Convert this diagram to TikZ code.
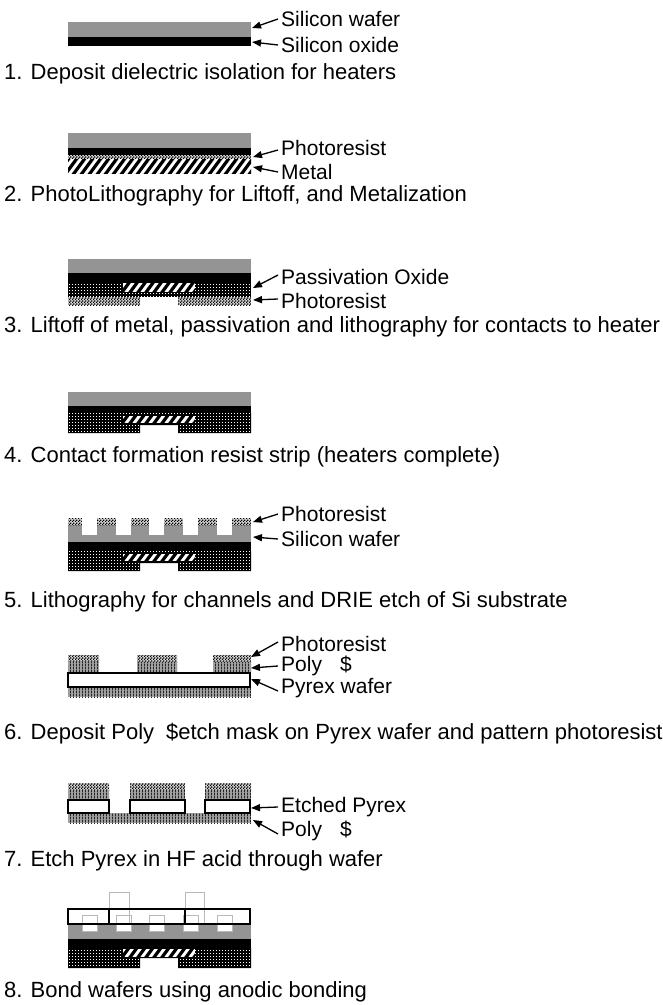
\documentclass[tikz,border=0pt]{standalone}
\usepackage{fontspec}
\setmainfont{Liberation Sans}
\usetikzlibrary{patterns,arrows.meta}

% fine checker for photoresist
\pgfdeclarepatternformonly{resistchk}{\pgfqpoint{0pt}{0pt}}{\pgfqpoint{3pt}{3pt}}{\pgfqpoint{3pt}{3pt}}{%
  \pgfpathrectangle{\pgfqpoint{0pt}{0pt}}{\pgfqpoint{1.5pt}{1.5pt}}%
  \pgfpathrectangle{\pgfqpoint{1.5pt}{1.5pt}}{\pgfqpoint{1.5pt}{1.5pt}}%
  \pgfusepath{fill}}
% sparse dots for passivation oxide
\pgfdeclarepatternformonly{oxdots}{\pgfqpoint{0pt}{0pt}}{\pgfqpoint{3pt}{3pt}}{\pgfqpoint{3pt}{3pt}}{%
  \pgfpathrectangle{\pgfqpoint{0pt}{0pt}}{\pgfqpoint{1.2pt}{1.2pt}}%
  \pgfusepath{fill}}
% dense vertical lines for polysilicon
\pgfdeclarepatternformonly{polylines}{\pgfqpoint{0pt}{0pt}}{\pgfqpoint{2.5pt}{3pt}}{\pgfqpoint{2.5pt}{3pt}}{%
  \pgfpathrectangle{\pgfqpoint{0pt}{0pt}}{\pgfqpoint{1.1pt}{3pt}}%
  \pgfusepath{fill}}

\definecolor{sigray}{RGB}{148,148,148}

% white box crossed by thick slanted stripes (metal heater)
\newcommand{\metalhatch}[4]{%
  \begin{scope}
    \clip (#1,#2) rectangle (#3,#4);
    \fill[white] (#1,#2) rectangle (#3,#4);
    \foreach \xx in {40,48,...,264}
      \draw[line width=3.2pt] (\xx,#4+3) -- ++(14,-19);
  \end{scope}}

\begin{document}
\begin{tikzpicture}[x=1pt,y=-1pt,
  si/.style={fill=sigray},
  ox/.style={fill=black},
  passiv/.style={fill=black, postaction={pattern=oxdots, pattern color=white}},
  resist/.style={fill=gray!35, postaction={pattern=resistchk, pattern color=black}},
  poly/.style={fill=gray!75, postaction={pattern=polylines, pattern color=black!85}},
  pyrex/.style={fill=white, draw=black, line width=1.3pt},
  hole/.style={draw=gray!55, line width=0.9pt},
  lbl/.style={anchor=west, inner sep=0pt, font=\fontsize{21}{24}\selectfont},
  capt/.style={anchor=base west, inner sep=0pt, font=\fontsize{22}{26}\selectfont},
  arr/.style={line width=1.3pt, -{Triangle[length=9pt,width=7pt]}}]

\useasboundingbox (0,0) rectangle (663,1005);
\fill[white] (0,0) rectangle (663,1005);

% ---- 1 ----
\fill[si] (68,22) rectangle (251,37);
\fill[ox] (68,37) rectangle (251,46);
\node[lbl] (l1a) at (281,19) {Silicon wafer};
\node[lbl] (l1b) at (281,45) {Silicon oxide};
\coordinate (t1a) at (252,28);
\coordinate (t1b) at (252,42);
\draw[arr] ([xshift=-3pt]l1a.west) -- (t1a);
\draw[arr] ([xshift=-3pt]l1b.west) -- (t1b);
\node[capt] (c1) at (4,79) {1. Deposit dielectric isolation for heaters};

% ---- 2 ----
\fill[si] (68,133) rectangle (251,148);
\fill[ox] (68,148) rectangle (251,155);
\fill[resist] (68,155) rectangle (251,160);
\metalhatch{68}{159}{251}{173}
\node[lbl] (l2a) at (281,148) {Photoresist};
\node[lbl] (l2b) at (281,172) {Metal};
\coordinate (t2a) at (253,157);
\coordinate (t2b) at (253,167);
\draw[arr] ([xshift=-3pt,yshift=-2pt]l2a.west) -- (t2a);
\draw[arr] ([xshift=-3pt]l2b.west) -- (t2b);
\node[capt] (c2) at (4,201) {2. PhotoLithography for Liftoff, and Metalization};

% ---- 3 ----
\fill[si] (68,259) rectangle (251,273);
\fill[ox] (68,273) rectangle (251,282);
\fill[passiv] (68,282) rectangle (251,297);
\metalhatch{123}{283}{195}{292}
\fill[resist] (68,297) rectangle (140,305);
\fill[resist] (178,297) rectangle (251,305);
\node[lbl] (l3a) at (281,277) {Passivation Oxide};
\node[lbl] (l3b) at (281,301) {Photoresist};
\coordinate (t3a) at (253,288);
\coordinate (t3b) at (253,300);
\draw[arr] ([xshift=-3pt,yshift=2pt]l3a.west) -- (t3a);
\draw[arr] ([xshift=-3pt,yshift=2pt]l3b.west) -- (t3b);
\node[capt] (c3) at (4,332) {3. Liftoff of metal, passivation and lithography for contacts to heater};

% ---- 4 ----
\fill[si] (68,392) rectangle (251,406);
\fill[ox] (68,406) rectangle (251,413);
\fill[passiv] (68,413) -- (251,413) -- (251,433) -- (178,433) -- (178,425)
  -- (140,425) -- (140,433) -- (68,433) -- cycle;
\metalhatch{123}{416}{195}{423}
\node[capt] (c4) at (4,462) {4. Contact formation resist strip (heaters complete)};

% ---- 5 ----
\fill[si] (68,518) rectangle (251,542);
\fill[resist] (68,518) rectangle (251,525);
\foreach \cx in {82,116,149,183,217}
  \fill[white] (\cx,518) rectangle (\cx+15,535);
\fill[ox] (68,542) rectangle (251,551);
\fill[passiv] (68,551) -- (251,551) -- (251,571) -- (178,571) -- (178,563)
  -- (140,563) -- (140,571) -- (68,571) -- cycle;
\metalhatch{123}{554}{195}{561}
\node[lbl] (l5a) at (281,514) {Photoresist};
\node[lbl] (l5b) at (281,539) {Silicon wafer};
\coordinate (t5a) at (253,522);
\coordinate (t5b) at (253,537);
\draw[arr] ([xshift=-3pt]l5a.west) -- (t5a);
\draw[arr] ([xshift=-3pt]l5b.west) -- (t5b);
\node[capt] (c5) at (4,607) {5. Lithography for channels and DRIE etch of Si substrate};

% ---- 6 ----
\foreach \a/\b in {68/99,137/177,213/251}{
  \fill[resist] (\a,655) rectangle (\b,662);
  \fill[poly] (\a,662) rectangle (\b,672);
}
\fill[poly] (68,687) rectangle (251,697);
\draw[pyrex] (68,673) rectangle (250,687);
\node[lbl] (l6a) at (281,644) {Photoresist};
\node[lbl] (l6b) at (281,666) {Poly\hspace{18pt}\$};
\node[lbl] (l6c) at (281,688) {Pyrex wafer};
\coordinate (t6a) at (251,657);
\coordinate (t6b) at (251,668);
\coordinate (t6c) at (251,679);
\draw[arr] ([xshift=-3pt,yshift=2pt]l6a.west) -- (t6a);
\draw[arr] ([xshift=-3pt]l6b.west) -- (t6b);
\draw[arr] ([xshift=-3pt,yshift=-3pt]l6c.west) -- (t6c);
\node[capt] (c6) at (4,739) {6. Deposit Poly\hspace{12pt}\$etch mask on Pyrex wafer and pattern photoresist};

% ---- 7 ----
\foreach \a/\b in {68/109,130/185,205/251}{
  \fill[resist] (\a,783) rectangle (\b,790);
  \fill[poly] (\a,790) rectangle (\b,799);
}
\fill[poly] (68,813) rectangle (251,823);
\draw[pyrex] (68,800) rectangle (109,813);
\draw[pyrex] (130,800) rectangle (185,813);
\draw[pyrex] (205,800) rectangle (250,813);
\node[lbl] (l7a) at (281,807) {Etched Pyrex};
\node[lbl] (l7b) at (281,831) {Poly\hspace{18pt}\$};
\coordinate (t7a) at (251,808);
\coordinate (t7b) at (253,820);
\draw[arr] ([xshift=-3pt]l7a.west) -- (t7a);
\draw[arr] ([xshift=-3pt,yshift=-3pt]l7b.west) -- (t7b);
\node[capt] (c7) at (4,866) {7. Etch Pyrex in HF acid through wafer};

% ---- 8 ----
\fill[white] (68,909) rectangle (250,924);
\fill[si] (68,924) rectangle (251,939);
\foreach \cx in {82,116,149,183,217}
  \draw[hole, fill=white] (\cx,915) rectangle (\cx+15,931);
\draw[hole] (109,892) rectangle (129,924);
\draw[hole] (185,892) rectangle (204,924);
\draw[line width=1.3pt] (68,909) rectangle (250,924);
\draw[line width=1.3pt] (109,909) -- (109,924);
\draw[line width=1.3pt] (185,909) -- (185,924);
\fill[ox] (68,939) rectangle (251,948);
\fill[passiv] (68,948) -- (251,948) -- (251,968) -- (178,968) -- (178,958)
  -- (140,958) -- (140,968) -- (68,968) -- cycle;
\metalhatch{123}{949}{195}{957}
\node[capt] (c8) at (4,997) {8. Bond wafers using anodic bonding};

\end{tikzpicture}
\end{document}
